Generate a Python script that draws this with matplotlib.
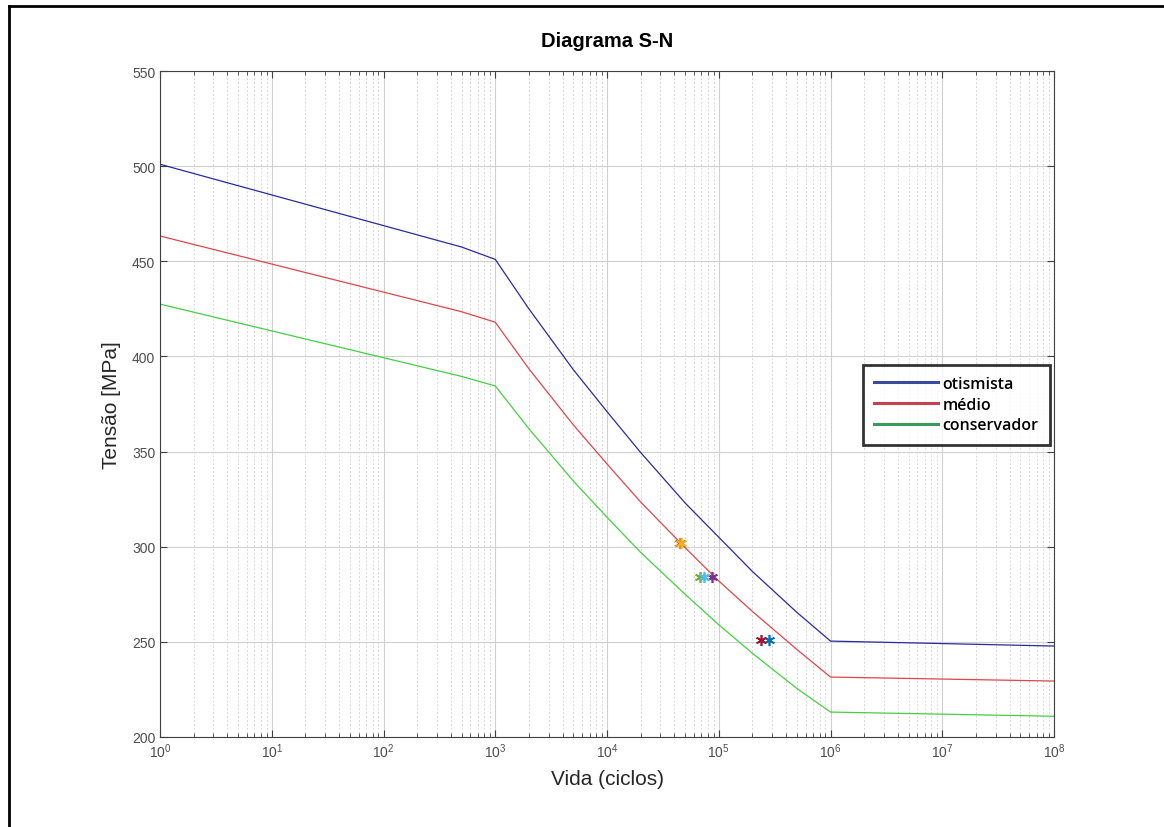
import matplotlib

matplotlib.use("Agg")
import matplotlib.pyplot as plt
from matplotlib.lines import Line2D

# ciclos (vida) e tensões
ciclos = [1, 500, 1e3, 2e3, 5e3, 1e4, 2e4, 5e4, 1e5, 2e5, 5e5, 1e6, 1e8]
tensao_otimista = [501, 457.5, 451, 425, 393, 371, 349.5, 323, 305, 287, 265.5, 250.4, 247.8]
tensao_medio = [463.3, 423.5, 418, 393.5, 364, 343.5, 323.5, 299.5, 282, 266, 246, 231.5, 229.4]
tensao_conservador = [427.5, 389.5, 384.5, 362, 334.5, 315.5, 297, 275, 259, 244, 225.5, 213.1, 210.9]

# pontos ensaiados (asteriscos)
pontos_n = [2.8e5, 4.5e4, 4.55e4, 8.7e4, 6.85e4, 7.4e4, 2.4e5]
pontos_s = [251, 302, 302, 284, 284, 284, 251]
pontos_cor = ["#0072BD", "#D95319", "#EDB120", "#7E2F8E", "#77AC30", "#4DBEEE", "#A2142F"]

plt.rcParams["font.family"] = ["Liberation Sans", "DejaVu Sans"]

fig = plt.figure(figsize=(11.64, 8.28), dpi=100)
ax = fig.add_axes([0.1375, 0.1087, 0.768, 0.8043])

ax.plot(ciclos, tensao_otimista, color="#2a2aa0", lw=0.9)
ax.plot(ciclos, tensao_medio, color="#e0454a", lw=0.9)
ax.plot(ciclos, tensao_conservador, color="#44d044", lw=0.9)
for n, s, c in zip(pontos_n, pontos_s, pontos_cor):
    ax.plot(n, s, marker=(6, 2, 0), color=c, ms=8, mew=1.2, ls="none")

ax.set_xscale("log")
ax.set_xlim(1, 1e8)
ax.set_ylim(200, 550)
ax.set_yticks(range(200, 551, 50))
ax.set_xticks([10.0 ** k for k in range(9)])
ax.grid(True, which="major", color="#d0d0d0", lw=0.8)
ax.grid(True, which="minor", axis="x", color="#d8d8d8", lw=0.7, ls=(0, (2, 2)))
ax.tick_params(which="both", direction="in", top=True, right=True, colors="#404040", labelsize=10)
ax.tick_params(which="major", length=5)
ax.tick_params(which="minor", length=3)
for sp in ax.spines.values():
    sp.set_color("#404040")
    sp.set_linewidth(0.8)
for lab in ax.get_xticklabels() + ax.get_yticklabels():
    lab.set_color("#4d4d4d")

ax.set_title("Diagrama S-N", fontsize=14.5, fontweight="bold", pad=18)
ax.set_xlabel("Vida (ciclos)", fontsize=15, color="#262626", labelpad=6)
ax.set_ylabel("Tensão [MPa]", fontsize=15, color="#262626", labelpad=8)

handles = [
    Line2D([], [], color="#3a4a9c", lw=2.2),
    Line2D([], [], color="#c8404c", lw=2.2),
    Line2D([], [], color="#3a9a5a", lw=2.2),
]
leg = ax.legend(
    handles,
    ["otismista", "médio", "conservador"],
    loc="upper left",
    bbox_to_anchor=(0.777, 0.571),
    prop={"family": "Open Sans", "weight": "semibold", "size": 11.5},
    frameon=True,
    fancybox=False,
    handlelength=4.0,
    handletextpad=0.3,
    labelspacing=0.3,
    borderpad=0.7,
)
leg.get_frame().set_edgecolor("black")
leg.get_frame().set_linewidth(2.0)

# moldura do recorte (bordas superior e esquerda)
fig.add_artist(Line2D([0.0075, 1.0], [0.9915, 0.9915], color="black", lw=2.0, transform=fig.transFigure))
fig.add_artist(Line2D([0.0075, 0.0075], [0.0, 0.9915], color="black", lw=2.0, transform=fig.transFigure))

fig.savefig("out.png", dpi=100)
